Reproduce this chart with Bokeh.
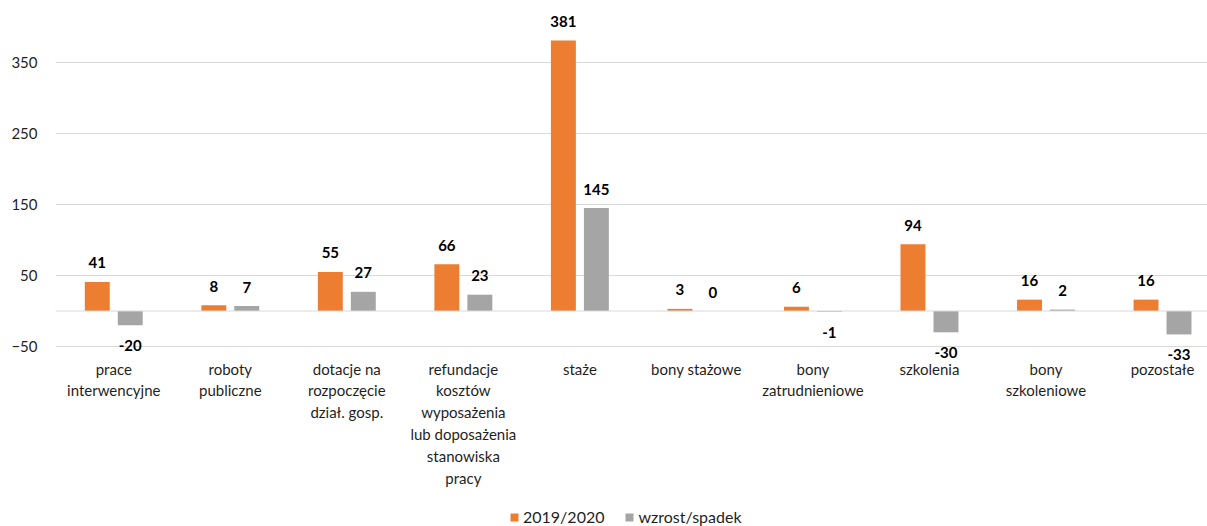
from bokeh.plotting import figure
from bokeh.models import ColumnDataSource, FixedTicker, Span, Legend, LegendItem
from bokeh.core.properties import value
from bokeh.embed import file_html
from bokeh.resources import INLINE

categories = [
    "prace\ninterwencyjne",
    "roboty\npubliczne",
    "dotacje na\nrozpoczęcie\ndział. gosp.",
    "refundacje\nkosztów\nwyposażenia\nlub doposażenia\nstanowiska\npracy",
    "staże",
    "bony stażowe",
    "bony\nzatrudnieniowe",
    "szkolenia",
    "bony\nszkoleniowe",
    "pozostałe",
]
series_2019 = [41, 8, 55, 66, 381, 3, 6, 94, 16, 16]
series_change = [-20, 7, 27, 23, 145, 0, -1, -30, 2, -33]
series_names = ["2019/2020", "wzrost/spadek"]
y_ticks = [-50, 50, 150, 250, 350]
axis_min = -50

ORANGE = "#ED7D31"
GRAY = "#A5A5A5"
GRID = "#D9D9D9"
FONT = "Lato"
TXT = "#1f1f1f"

n = len(categories)
idx = list(range(n))
off = 0.1415
bw = 0.214

x_a = [i - off for i in idx]
x_b = [i + off for i in idx]

src_a = ColumnDataSource(dict(x=x_a, top=series_2019))
src_b = ColumnDataSource(dict(x=x_b, top=series_change))

p = figure(frame_width=1152, frame_height=526, output_backend="svg", toolbar_location=None,
           x_range=(-0.5, 9.386), y_range=(-303.5, 437.3),
           min_border_left=55, min_border_right=0, min_border_top=0,
           min_border_bottom=0)
p.outline_line_color = None
p.background_fill_color = "white"
p.border_fill_color = "white"

ra = p.vbar(x="x", top="top", bottom=0, width=bw, source=src_a,
            fill_color=ORANGE, line_color=None)
rb = p.vbar(x="x", top="top", bottom=0, width=bw, source=src_b,
            fill_color=GRAY, line_color=None)

p.add_layout(Span(location=0, dimension="width", line_color=GRID, line_width=1))

# data labels
def label_sources(xs, vals):
    pos = dict(x=[], y=[], t=[])
    neg = dict(x=[], y=[], t=[])
    for x, v in zip(xs, vals):
        d = pos if v >= 0 else neg
        d["x"].append(x)
        d["y"].append(v)
        d["t"].append(str(v))
    return ColumnDataSource(pos), ColumnDataSource(neg)

for xs, vals in ((x_a, series_2019), (x_b, series_change)):
    sp, sn = label_sources(xs, vals)
    p.text(x="x", y="y", text="t", source=sp, text_font=value(FONT),
           text_font_size="15px", text_font_style="bold", text_color="#000000",
           text_align="center", text_baseline="alphabetic", y_offset=-19)
    p.text(x="x", y="y", text="t", source=sn, text_font=value(FONT),
           text_font_size="15px", text_font_style="bold", text_color="#000000",
           text_align="center", text_baseline="top", y_offset=15)

# category labels below the plot's lowest gridline
cat_src = ColumnDataSource(dict(x=idx, y=[axis_min] * n, t=categories))
p.text(x="x", y="y", text="t", source=cat_src, text_font=value(FONT),
       text_font_size="15px", text_color=TXT, text_align="center",
       text_baseline="top", y_offset=13, text_line_height=1.22)

# y axis
p.yaxis.ticker = FixedTicker(ticks=y_ticks, minor_ticks=[])
p.yaxis.axis_line_color = None
p.yaxis.major_tick_line_color = None
p.yaxis.major_tick_out = 0
p.yaxis.major_tick_in = 0
p.yaxis.major_label_standoff = 18
p.yaxis.major_label_text_font = FONT
p.yaxis.major_label_text_font_size = "15px"
p.yaxis.major_label_text_color = TXT

p.ygrid.ticker = FixedTicker(ticks=y_ticks, minor_ticks=[])
p.ygrid.grid_line_color = GRID
p.ygrid.grid_line_width = 1
p.xgrid.visible = False
p.xaxis.visible = False

legend = Legend(items=[LegendItem(label=series_names[0], renderers=[ra]),
                       LegendItem(label=series_names[1], renderers=[rb])],
                orientation="horizontal", location=(454, 0))
legend.border_line_color = None
legend.background_fill_alpha = 0
legend.glyph_width = 10
legend.glyph_height = 10
legend.label_standoff = 4
legend.spacing = 20
legend.label_text_font = FONT
legend.label_text_font_size = "16px"
legend.label_text_color = TXT
legend.label_height = 14
legend.margin = 0
legend.padding = 0
p.add_layout(legend, "center")

open("out.html", "w").write(file_html(p, INLINE))
